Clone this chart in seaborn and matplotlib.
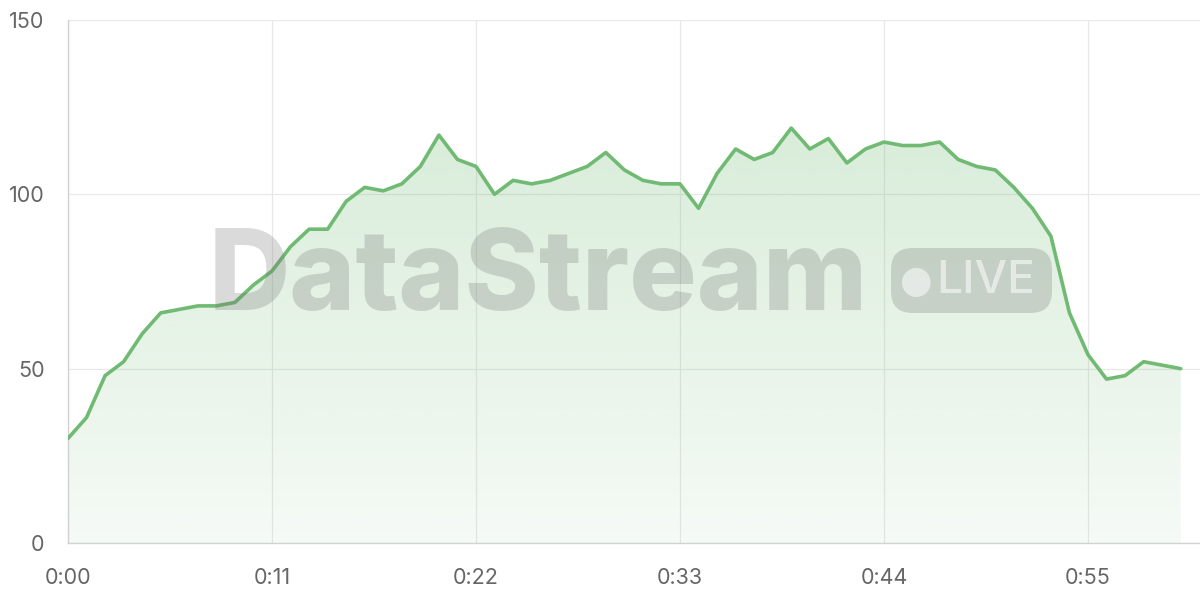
import numpy as np
import pandas as pd
import seaborn as sns
import matplotlib.pyplot as plt
from matplotlib.patches import FancyBboxPatch

minutes = list(range(61))
values = [30, 36, 48, 52, 60, 66, 67, 68, 68, 69,
          74, 78, 85, 90, 90, 98, 102, 101, 103, 108,
          117, 110, 108, 100, 104, 103, 104, 106, 108, 112,
          107, 104, 103, 103, 96, 106, 113, 110, 112, 119,
          113, 116, 109, 113, 115, 114, 114, 115, 110, 108,
          107, 102, 96, 88, 66, 54, 47, 48, 52, 51,
          50]
tick_pos = [0, 11, 22, 33, 44, 55]
tick_labels = ["0:00", "0:11", "0:22", "0:33", "0:44", "0:55"]
y_ticks = [0, 50, 100, 150]

df = pd.DataFrame({"minute": minutes, "value": values})

sns.set_style("white")
plt.rcParams['font.family'] = ['Inter', 'DejaVu Sans']

line_color = "#70ba73"
grid_color = "#e8e8e8"
label_color = "#666666"

fig = plt.figure(figsize=(12, 6), dpi=100)
ax = fig.add_axes([68 / 1200, 1 - 543 / 600, 1 - 68 / 1200, (543 - 20) / 600])

# gradient fill under the line
fill = ax.fill_between(df["minute"], df["value"], 0, color="none", lw=0)
grad = np.linspace(0.07, 0.32, 256).reshape(-1, 1)
rgba = np.zeros((256, 1, 4))
rgba[..., 0] = 112 / 255
rgba[..., 1] = 186 / 255
rgba[..., 2] = 115 / 255
rgba[..., 3] = grad
img = ax.imshow(rgba, extent=[0, 60, 0, 150], origin="lower", aspect="auto", zorder=1)
img.set_clip_path(fill.get_paths()[0], transform=ax.transData)

sns.lineplot(data=df, x="minute", y="value", ax=ax, color=line_color,
             linewidth=2.6, zorder=3)

ax.set_xlim(0, 61.04)
ax.set_ylim(0, 150)
ax.set_xticks(tick_pos)
ax.set_xticklabels(tick_labels)
ax.set_yticks(y_ticks)
ax.set_xlabel("")
ax.set_ylabel("")

ax.grid(True, color=grid_color, linewidth=0.9, zorder=0)
ax.set_axisbelow(True)
for s in ["top", "right"]:
    ax.spines[s].set_visible(False)
ax.spines["left"].set_color("#d2d2d2")
ax.spines["bottom"].set_color("#d0d5d0")
ax.spines["left"].set_linewidth(1.0)
ax.spines["bottom"].set_linewidth(1.0)
ax.tick_params(axis="both", length=11, width=0.9, color=grid_color,
               labelsize=15.5, labelcolor=label_color)
ax.tick_params(axis="x", pad=7)
ax.tick_params(axis="y", pad=6)

# watermark
wm_gray = "#6e6e6e"
fig.text(209 / 1200, 1 - 281 / 600, "DataStream", fontsize=81, fontweight="heavy",
         color=wm_gray, alpha=0.25, ha="left", va="center", zorder=5)
badge = FancyBboxPatch((891 / 1200, 1 - 313 / 600), (1052 - 891) / 1200, (313 - 248) / 600,
                       boxstyle="round,pad=0,rounding_size=0.018",
                       transform=fig.transFigure, facecolor=wm_gray, alpha=0.25,
                       edgecolor="none", zorder=5, mutation_aspect=2)
fig.patches.append(badge)
fig.text(916 / 1200, 1 - 282 / 600, "\u25cf", fontsize=27, color="white", alpha=0.55,
         ha="center", va="center", zorder=6, family=['DejaVu Sans'])
fig.text(986 / 1200, 1 - 281 / 600, "LIVE", fontsize=33, fontweight="medium",
         color="white", alpha=0.55, ha="center", va="center", zorder=6)

plt.savefig("out.png", dpi=100)
